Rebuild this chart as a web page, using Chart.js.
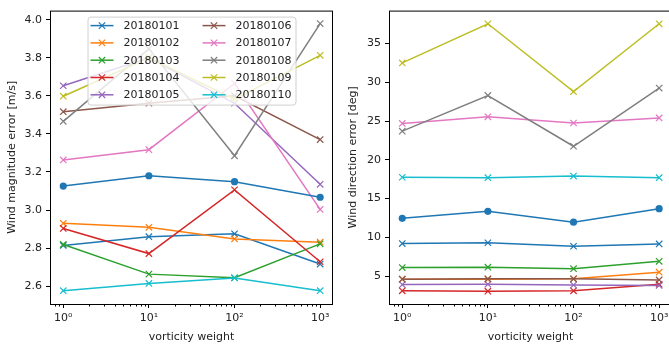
<!DOCTYPE html>
<html>
<head>
<meta charset="utf-8">
<script src="https://cdn.jsdelivr.net/npm/chart.js@4.4.1/dist/chart.umd.min.js"></script>
<style>
  body { margin: 0; background: #fff; overflow: hidden; width: 669px; height: 349px; position: relative; }
  canvas { position: absolute; top: 0; }
  #magChart { left: 0; }
  #dirChart { left: 339px; }
</style>
</head>
<body>
<canvas id="magChart" width="340" height="349"></canvas>
<canvas id="dirChart" width="340" height="349"></canvas>
<script>
const weights = [1, 10, 100, 1000];
const dates = ["20180101", "20180102", "20180103", "20180104", "20180105",
               "20180106", "20180107", "20180108", "20180109", "20180110"];
const colors = ["#1f77b4", "#ff7f0e", "#2ca02c", "#d62728", "#9467bd",
                "#8c564b", "#e377c2", "#7f7f7f", "#bcbd22", "#17becf"];

// wind speed error per day [m/s], one row per date
const magnitudeErr = [
  [2.814, 2.860, 2.875, 2.716],
  [2.930, 2.909, 2.848, 2.831],
  [2.819, 2.663, 2.644, 2.822],
  [2.903, 2.771, 3.106, 2.728],
  [3.653, 3.800, 3.561, 3.135],
  [3.517, 3.561, 3.600, 3.370],
  [3.263, 3.317, 3.665, 3.003],
  [3.466, 3.847, 3.285, 3.980],
  [3.598, 3.800, 3.583, 3.813],
  [2.576, 2.614, 2.643, 2.576],
];
const magnitudeMean = [3.126, 3.180, 3.149, 3.067];

// wind direction error per day [deg]
const directionErr = [
  [9.20, 9.30, 8.85, 9.15],
  [4.60, 4.60, 4.65, 5.50],
  [6.10, 6.15, 5.95, 6.90],
  [3.10, 3.05, 3.10, 3.95],
  [3.90, 3.95, 3.85, 3.80],
  [4.60, 4.65, 4.65, 4.50],
  [24.70, 25.55, 24.75, 25.40],
  [23.70, 28.30, 21.75, 29.25],
  [32.50, 37.55, 28.80, 37.55],
  [17.75, 17.70, 17.90, 17.70],
];
const directionMean = [12.45, 13.35, 11.95, 13.70];

const magTicks = [2.6, 2.8, 3.0, 3.2, 3.4, 3.6, 3.8, 4.0];
const dirTicks = [5, 10, 15, 20, 25, 30, 35];
const minorWeights = [0.8, 0.9, 2, 3, 4, 5, 6, 7, 8, 9, 20, 30, 40, 50, 60, 70, 80, 90,
                      200, 300, 400, 500, 600, 700, 800, 900];

const FONT = { family: "'DejaVu Sans', sans-serif", size: 11 };
const INK = "#222";
const sup = ["\u2070", "\u00b9", "\u00b2", "\u00b3"];

const buildDatasets = (rows, mean) => {
  const sets = rows.map((row, i) => ({
    label: dates[i],
    data: weights.map((w, j) => ({ x: w, y: row[j] })),
    borderColor: colors[i],
    backgroundColor: colors[i],
    borderWidth: 1.5,
    pointStyle: "crossRot",
    pointRadius: 4.5,
    pointBorderWidth: 1.2,
    order: rows.length - i + 1,
  }));
  sets.push({
    label: "mean",
    data: weights.map((w, j) => ({ x: w, y: mean[j] })),
    borderColor: colors[0],
    backgroundColor: colors[0],
    borderWidth: 1.5,
    pointStyle: "circle",
    pointRadius: 3.6,
    pointBorderWidth: 0,
    order: 0,
  });
  return sets;
};

// axes frame + minor log ticks
const framePlugin = {
  id: "frame",
  afterDraw(chart) {
    const { ctx, chartArea: a } = chart;
    const xs = chart.scales.x;
    ctx.save();
    ctx.strokeStyle = "#000";
    ctx.lineWidth = 1;
    ctx.strokeRect(a.left + 0.5, a.top + 0.5, a.right - a.left - 1, a.bottom - a.top);
    ctx.beginPath();
    minorWeights.forEach((v) => {
      const px = Math.round(xs.getPixelForValue(v)) + 0.5;
      if (px < a.left || px > a.right) return;
      ctx.moveTo(px, a.bottom);
      ctx.lineTo(px, a.bottom + 2.5);
    });
    ctx.stroke();
    ctx.restore();
  },
};

// two-column legend with line + marker handles
const legendPlugin = {
  id: "boxLegend",
  afterDatasetsDraw(chart) {
    const { ctx, chartArea: a } = chart;
    const items = chart.data.datasets.filter((d) => d.label !== "mean");
    const w = 208, h = 88;
    const x0 = (a.left + a.right) / 2 - w / 2;
    const y0 = a.top + 6;
    ctx.save();
    ctx.beginPath();
    ctx.roundRect(x0 + 0.5, y0 + 0.5, w, h, 3);
    ctx.fillStyle = "rgba(255,255,255,0.8)";
    ctx.fill();
    ctx.strokeStyle = "#d0d0d0";
    ctx.lineWidth = 1;
    ctx.stroke();
    ctx.font = `${FONT.size}px ${FONT.family}`;
    ctx.textBaseline = "middle";
    items.forEach((d, i) => {
      const col = Math.floor(i / 5), row = i % 5;
      const hx = x0 + 3 + col * 112;
      const hy = y0 + 9 + row * 17.3;
      ctx.strokeStyle = d.borderColor;
      ctx.lineWidth = 1.5;
      ctx.beginPath();
      ctx.moveTo(hx, hy);
      ctx.lineTo(hx + 23, hy);
      ctx.stroke();
      ctx.lineWidth = 1.2;
      const m = 3.2, cx = hx + 11.5;
      ctx.beginPath();
      ctx.moveTo(cx - m, hy - m); ctx.lineTo(cx + m, hy + m);
      ctx.moveTo(cx - m, hy + m); ctx.lineTo(cx + m, hy - m);
      ctx.stroke();
      ctx.fillStyle = INK;
      ctx.fillText(d.label, hx + 33, hy + 0.5);
    });
    ctx.restore();
  },
};

const makeChart = (el, rows, mean, yMin, yMax, yTicks, yFmt, yTitle, titlePad, plugins) =>
  new Chart(document.getElementById(el), {
    type: "line",
    data: { datasets: buildDatasets(rows, mean) },
    plugins,
    options: {
      responsive: false,
      animation: false,
      devicePixelRatio: 1,
      layout: { padding: { top: 4, right: 7, left: 0, bottom: 0 } },
      plugins: { legend: { display: false }, tooltip: { enabled: false } },
      scales: {
        x: {
          type: "logarithmic",
          min: Math.pow(10, -0.15),
          max: Math.pow(10, 3.15),
          afterBuildTicks: (s) => { s.ticks = weights.map((v) => ({ value: v })); },
          afterFit: (s) => { s.height = 45; },
          ticks: {
            callback: (v) => "10" + sup[Math.round(Math.log10(v))],
            font: FONT, color: INK, padding: 4, maxRotation: 0, autoSkip: false,
          },
          grid: { drawOnChartArea: false, drawTicks: true, tickLength: 4, color: "#000" },
          border: { display: false },
          title: { display: true, text: "vorticity weight", font: FONT, color: INK, padding: 5 },
        },
        y: {
          min: yMin,
          max: yMax,
          afterBuildTicks: (s) => { s.ticks = yTicks.map((v) => ({ value: v })); },
          afterFit: (s) => { s.width = 50; },
          ticks: { callback: yFmt, font: FONT, color: INK, padding: 4 },
          grid: { drawOnChartArea: false, drawTicks: true, tickLength: 4, color: "#000" },
          border: { display: false },
          title: { display: true, text: yTitle, font: FONT, color: INK, padding: titlePad },
        },
      },
    },
  });

makeChart("magChart", magnitudeErr, magnitudeMean, 2.506, 4.048, magTicks,
  (v) => v.toFixed(1), "Wind magnitude error [m/s]", 6, [framePlugin, legendPlugin]);
makeChart("dirChart", directionErr, directionMean, 1.4, 39.25, dirTicks,
  (v) => String(v), "Wind direction error [deg]", 8, [framePlugin]);
</script>
</body>
</html>
